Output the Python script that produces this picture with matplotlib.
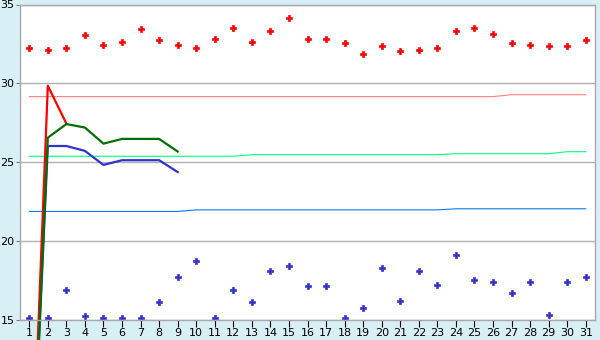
import matplotlib
matplotlib.use('Agg')
import matplotlib.pyplot as plt

# day numbers on the x axis
days = list(range(1, 32))

# scattered daily readings (upper red, lower blue)
red_dots = [32.26, 32.13, 32.26, 33.08, 32.45, 32.64, 33.46, 32.77, 32.45, 32.26,
            32.83, 33.52, 32.64, 33.33, 34.16, 32.83, 32.83, 32.58, 31.88, 32.39,
            32.07, 32.13, 32.26, 33.33, 33.52, 33.14, 32.58, 32.45, 32.39, 32.39, 32.77]
blue_dots = [15.13, 15.13, 16.88, 15.23, 15.13, 15.13, 15.13, 16.12, 17.70, 18.71,
             15.13, 16.88, 16.12, 18.08, 18.40, 17.13, 17.13, 15.13, 15.74, 18.27,
             16.18, 18.08, 17.20, 19.10, 17.51, 17.39, 16.69, 17.39, 15.30, 17.39, 17.70]

# nearly flat reference lines
pink_line = [29.16] * 26 + [29.28] * 5
green_line = [25.38] * 12 + [25.48] * 11 + [25.54] * 6 + [25.67] * 2
blue_line = [21.88] * 9 + [21.98] * 14 + [22.05] * 8

# short series for the first days
red_days = [1, 2, 3]
red_vals = [0.0, 29.85, 27.45]
green_days = [1, 2, 3, 4, 5, 6, 7, 8, 9]
green_vals = [0.0, 26.56, 27.42, 27.2, 26.18, 26.48, 26.48, 26.48, 25.68]
navy_days = [1, 2, 3, 4, 5, 6, 7, 8, 9]
navy_vals = [0.0, 26.03, 26.03, 25.72, 24.83, 25.13, 25.13, 25.13, 24.38]

plt.rcParams['font.family'] = 'DejaVu Sans'

fig = plt.figure(figsize=(6, 3.4), dpi=100, facecolor='#d9eff6')
ax = fig.add_axes([20 / 600, 20 / 340, 575 / 600, 315.5 / 340])
ax.set_facecolor('white')

ax.set_xlim(0.5, 31.5)
ax.set_ylim(15, 35)
ax.set_yticks([15, 20, 25, 30, 35])
ax.set_xticks(days)
ax.yaxis.grid(True, color='#b0b0b0', linewidth=1.0)
ax.set_axisbelow(True)

for s in ax.spines.values():
    s.set_color('#a8a8a8')
    s.set_linewidth(1.0)

ax.tick_params(axis='y', length=3, color='#808080', labelsize=8, pad=1)
ax.tick_params(axis='x', length=5, color='black', labelsize=8, pad=1)

ax.plot(days, pink_line, color='#ff8080', linewidth=0.8)
ax.plot(days, green_line, color='#00ff80', linewidth=0.8)
ax.plot(days, blue_line, color='#0a78f0', linewidth=0.8)

ax.plot(days, red_dots, linestyle='none', marker='P', markersize=5,
        color='red', markeredgewidth=0.5)
ax.plot(days, blue_dots, linestyle='none', marker='P', markersize=5,
        color='#3333cc', markeredgewidth=0.5)

ax.plot(navy_days, navy_vals, color='#3333cc', linewidth=1.6, clip_on=False)
ax.plot(red_days, red_vals, color='red', linewidth=1.6, clip_on=False)
ax.plot(green_days, green_vals, color='#006e00', linewidth=1.6, clip_on=False)

fig.savefig('out.png', dpi=100, facecolor=fig.get_facecolor())
